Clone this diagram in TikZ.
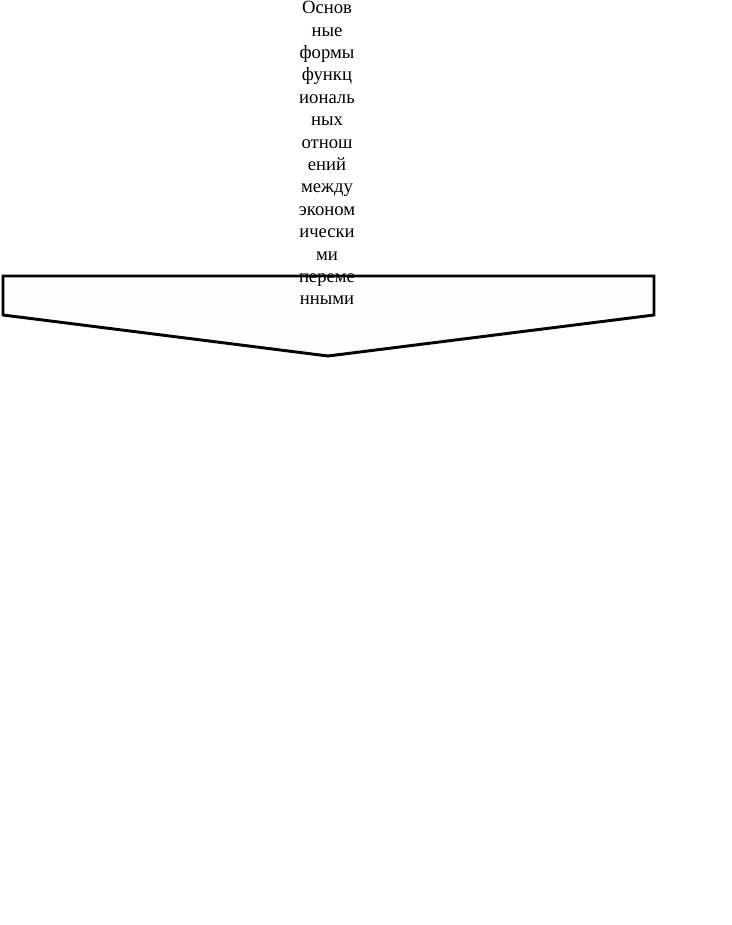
\documentclass[tikz,border=0pt]{standalone}
\usepackage{fontspec}
\setmainfont{Liberation Serif}
\begin{document}
\begin{tikzpicture}[x=0.75pt,y=-0.75pt,
  lbl/.style={anchor=base,inner sep=0pt,font=\fontsize{14}{16}\selectfont},
  arrowshape/.style={line width=2.2pt,line join=miter}]
\useasboundingbox (0,0) rectangle (732,925);
\fill[white] (0,0) rectangle (732,925);
\coordinate (p1) at (3,276);
\coordinate (p2) at (654,276);
\coordinate (p3) at (654,315);
\coordinate (p4) at (328,356);
\coordinate (p5) at (3,315);
\fill[fill={rgb,255:red,253;green,253;blue,253}] (p1) -- (p2) -- (p3) -- (p4) -- (p5) -- cycle;
\foreach \t [count=\k from 0] in {Основ,ные,формы,функц,иональ,ных,отнош,ений,между,эконом,ически,ми,переме,нными}{
  \node[lbl] (l\k) at (327,13.6+22.4*\k) {\t};
}
\draw[arrowshape] (p1) -- (p2) -- (p3) -- (p4) -- (p5) -- cycle;
\end{tikzpicture}
\end{document}
